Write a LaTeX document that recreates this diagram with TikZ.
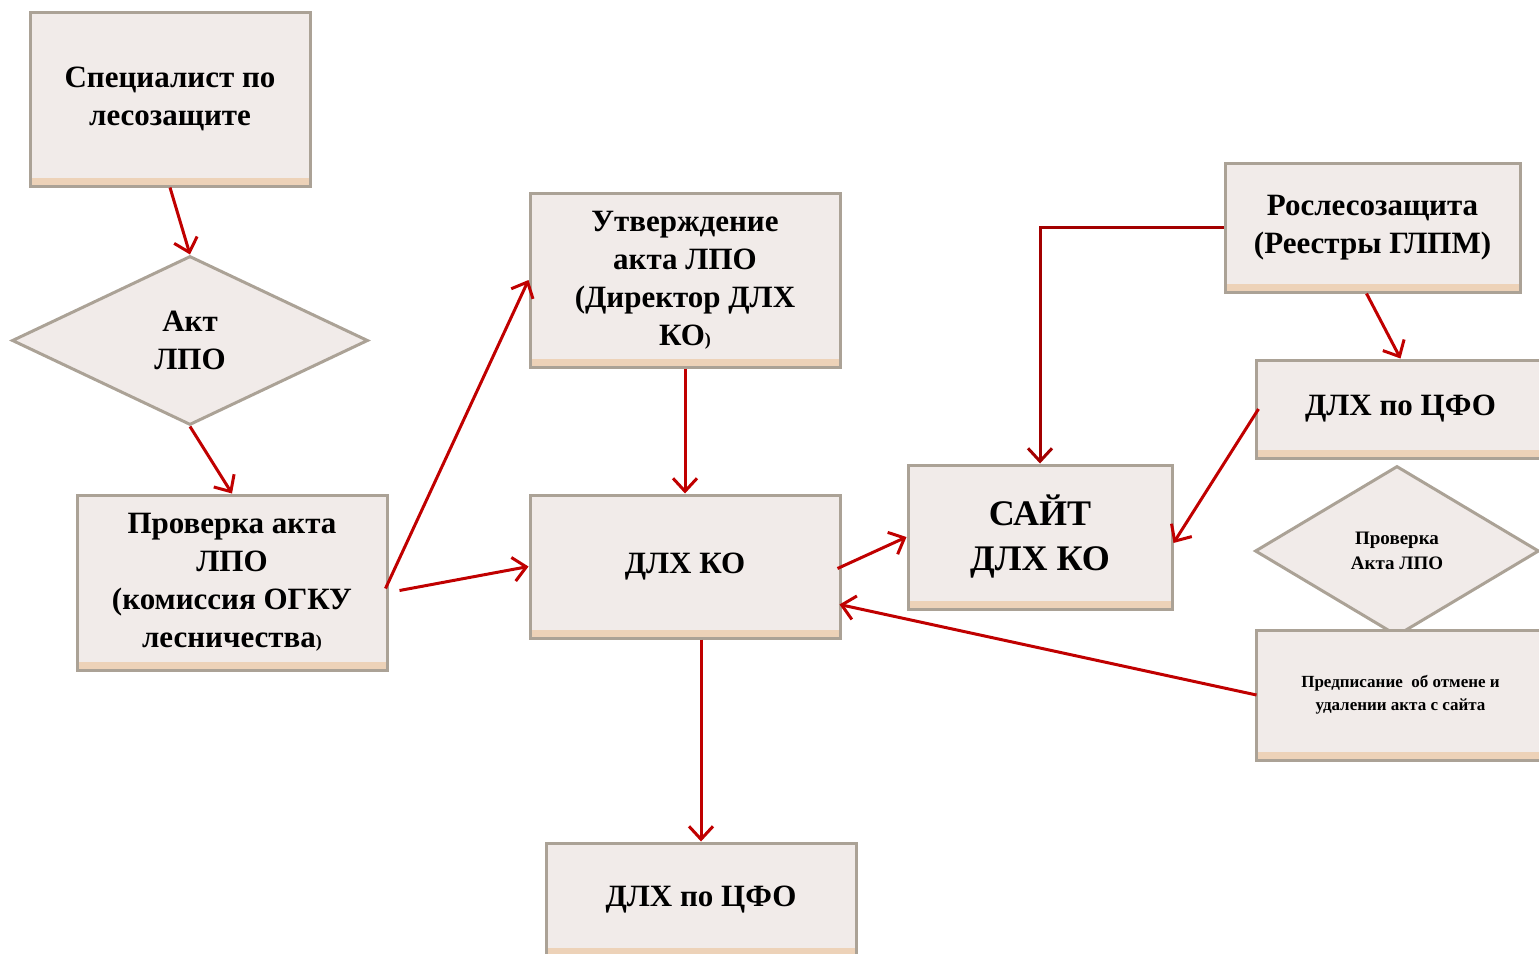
\documentclass[tikz,border=0pt]{standalone}
\usepackage{fontspec}
\setmainfont{Liberation Serif}
\usetikzlibrary{shapes.geometric,arrows.meta,calc}
\definecolor{boxfill}{HTML}{F1EBE9}
\definecolor{boxedge}{HTML}{ABA296}
\definecolor{peach}{HTML}{EDD2B8}
\definecolor{arrowred}{HTML}{C00000}
\definecolor{darkred}{HTML}{A30000}
\tikzset{
  box/.style={draw=boxedge, line width=3pt, fill=boxfill, inner sep=0pt, align=center,
    path picture={\fill[peach] (path picture bounding box.south west) rectangle ([yshift=8pt]path picture bounding box.south east);}},
  dia/.style={diamond, draw=boxedge, line width=3pt, fill=boxfill, inner sep=0pt, align=center},
  big/.style={font=\fontsize{31}{38}\selectfont\bfseries},
  huge/.style={font=\fontsize{36}{45}\selectfont\bfseries},
  small/.style={font=\fontsize{19}{25}\selectfont\bfseries},
  tiny/.style={font=\fontsize{17}{23}\selectfont\bfseries},
  arr/.style={draw=arrowred, line width=3pt, -{Straight Barb[length=13pt,width=24pt]}}
}
\newcommand{\smp}{{\fontsize{18}{18}\selectfont )}}
\begin{document}
\begin{tikzpicture}[x=1pt,y=-1pt]
\useasboundingbox (0,0) rectangle (1539,953);
\clip (0,0) rectangle (1539,953);

\node[box,big,minimum width=280pt,minimum height=174pt] (spec) at (170,99) {Специалист по\\лесозащите};
\node[dia,big,minimum width=356pt,minimum height=169pt] (akt) at (190,340.5) {Акт\\ЛПО};
\node[box,big,minimum width=310pt,minimum height=175pt] (prov) at (232,582.5) {Проверка акта\\ЛПО\\(комиссия ОГКУ\\лесничества\smp};
\node[box,big,minimum width=310pt,minimum height=174pt] (utv) at (685,280) {Утверждение\\акта ЛПО\\(Директор ДЛХ\\КО\smp};
\node[box,big,minimum width=310pt,minimum height=143pt] (dlhko) at (685,566.5) {ДЛХ КО};
\node[box,big,minimum width=310pt,minimum height=113pt] (cfo) at (701,899.5) {ДЛХ по ЦФО};
\node[box,huge,minimum width=264pt,minimum height=144pt] (sait) at (1040,537) {САЙТ\\ДЛХ КО};
\node[box,big,minimum width=295pt,minimum height=129pt] (rosl) at (1372.5,227.5) {Рослесозащита\\(Реестры ГЛПМ)};
\node[box,big,minimum width=289pt,minimum height=98pt] (cfo2) at (1400.5,409) {ДЛХ по ЦФО};
\node[dia,small,minimum width=284pt,minimum height=170pt] (prov2) at (1397,551) {Проверка\\Акта ЛПО};
\node[box,tiny,minimum width=289pt,minimum height=130pt] (predp) at (1400.5,695) {Предписание\ \ об отмене и\\удалении акта с сайта};

\draw[arr] (spec.south) -- (akt.north);
\draw[arr] (akt.south) -- (prov.north);
\draw[arr] ([xshift=-3pt,yshift=-6pt]prov.east) -- (utv.west);
\draw[arr] ([xshift=11pt,yshift=-8pt]prov.east) -- (dlhko.west);
\draw[arr] (utv.south) -- (dlhko.north);
\draw[arr] (dlhko.south -| cfo.north) -- (cfo.north);
\draw[arr] ([xshift=-4pt,yshift=-2pt]dlhko.east) -- (sait.west);
\draw[arr,draw=darkred] (rosl.west) -| (sait.north);
\draw[arr] ([xshift=-6pt]rosl.south) -- (cfo2.north);
\draw[arr] ([xshift=4pt]cfo2.west) -- ([yshift=-6pt]sait.east);
\draw[arr] ([xshift=2pt]predp.west) -- ([xshift=-2pt,yshift=-38pt]dlhko.east);
\end{tikzpicture}
\end{document}
